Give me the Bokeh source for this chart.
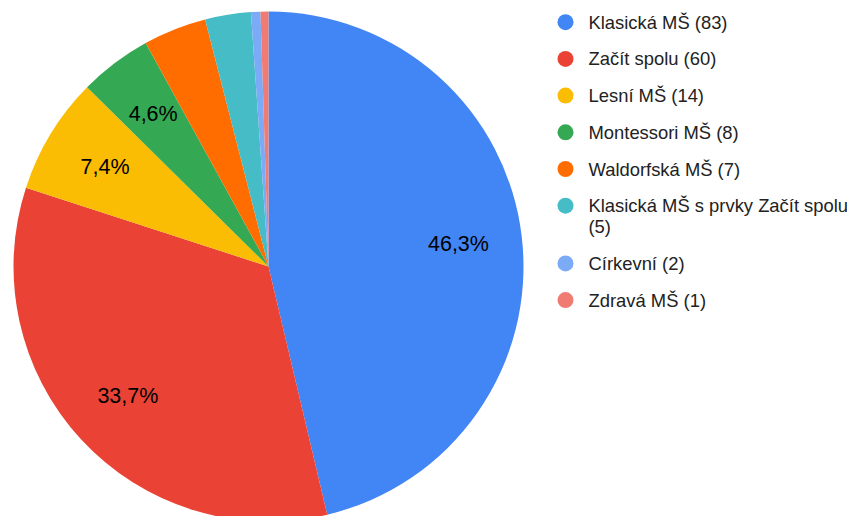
import numpy as np
from bokeh.plotting import figure
from bokeh.models import Range1d, ColumnDataSource
from bokeh.core.properties import value
from bokeh.embed import file_html
from bokeh.resources import INLINE

# ---- data ----
categories = ["Klasická MŠ", "Začít spolu", "Lesní MŠ", "Montessori MŠ",
              "Waldorfská MŠ", "Klasická MŠ s prvky Začít spolu", "Církevní", "Zdravá MŠ"]
counts = [83, 60, 14, 8, 7, 5, 2, 1]
shares = [46.3, 33.7, 7.4, 4.6, 4.0, 2.9, 0.6, 0.5]
colors = ["#4285f4", "#ea4335", "#fbbc04", "#34a853",
          "#ff6d01", "#46bdc6", "#7baaf7", "#f07b72"]

# ---- layout constants (pixels) ----
W, H = 847, 516
CX, CY, R = 268, 250, 255
LABEL_FRAC = 0.75
FONT = "Liberation Sans"

p = figure(width=W, height=H, output_backend="svg", toolbar_location=None,
           x_range=Range1d(0, W), y_range=Range1d(0, H),
           x_axis_location=None, y_axis_location=None, min_border=0)
p.grid.visible = False
p.outline_line_color = None
p.background_fill_color = "white"

vals = np.array(shares, dtype=float)
frac = vals / vals.sum()
cum = np.concatenate([[0.0], np.cumsum(frac)])
start = np.pi / 2 - cum[:-1] * 2 * np.pi
end = np.pi / 2 - cum[1:] * 2 * np.pi

src = ColumnDataSource(dict(start=start, end=end, color=colors))
p.wedge(x=CX, y=CY, radius=R, start_angle="start", end_angle="end",
        direction="clock", fill_color="color", line_color=None, source=src)

# slice labels
mid = (cum[:-1] + cum[1:]) / 2 * 2 * np.pi
lx, ly, lt = [], [], []
for m, v in zip(mid, shares):
    if v >= 4.5:
        lx.append(CX + LABEL_FRAC * R * np.sin(m))
        ly.append(CY + LABEL_FRAC * R * np.cos(m))
        lt.append(f"{v:.1f}%".replace(".", ","))
p.text(x=lx, y=ly, text=lt, text_align="center", text_baseline="middle",
       text_font=value(FONT), text_font_size="21.5px", text_color="#000000")

# legend
LEG_X, LEG_TX, LEG_Y0 = 565, 588, 494.3
ITEM_STEP, LINE_H = 36.7, 21
dx, dy, tx, ty, tt, dc = [], [], [], [], [], []
y = LEG_Y0
for c, n, col in zip(categories, counts, colors):
    label = f"{c} ({n})"
    lines = [label]
    if len(label) > 32:
        cut = label.rfind(" ", 0, 32)
        lines = [label[:cut], label[cut + 1:]]
    dx.append(LEG_X); dy.append(y); dc.append(col)
    for k, ln in enumerate(lines):
        tx.append(LEG_TX); ty.append(y - k * LINE_H); tt.append(ln)
    y -= ITEM_STEP + (len(lines) - 1) * LINE_H

p.scatter(x=dx, y=dy, size=16, marker="circle", fill_color=dc, line_color=None)
p.text(x=tx, y=ty, text=tt, text_align="left", text_baseline="middle",
       text_font=value(FONT), text_font_size="18.4px", text_color="#222222")

open("out.html", "w").write(file_html(p, INLINE))
